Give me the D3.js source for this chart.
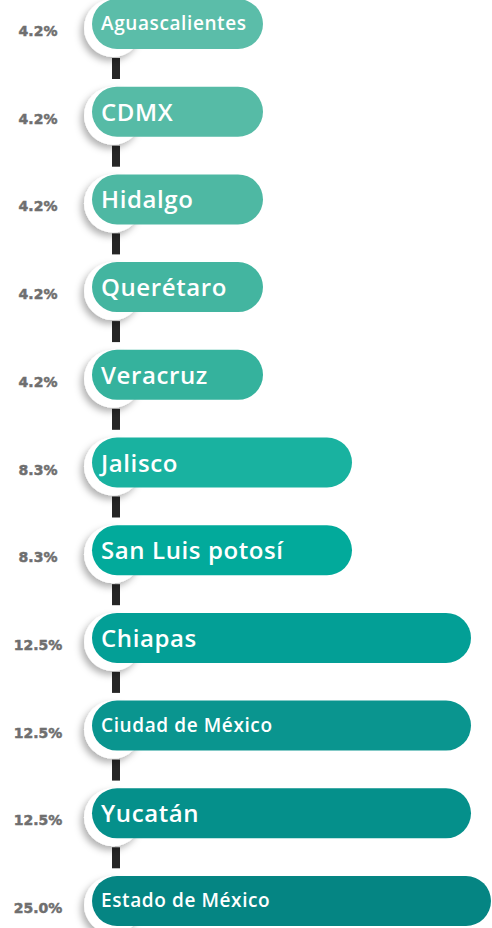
<!DOCTYPE html>
<html>
<head>
<meta charset="utf-8">
<script src="https://cdn.jsdelivr.net/npm/d3@7"></script>
<style>
  html, body { margin: 0; padding: 0; background: #fff; }
  svg { display: block; }
</style>
</head>
<body>
<div id="chart"></div>
<script>
// states, from top to bottom
const states = ["Aguascalientes", "CDMX", "Hidalgo", "Querétaro", "Veracruz", "Jalisco",
  "San Luis potosí", "Chiapas", "Ciudad de México", "Yucatán", "Estado de México"];
const shares = [4.2, 4.2, 4.2, 4.2, 4.2, 8.3, 8.3, 12.5, 12.5, 12.5, 25.0];
const pctLabels = ["4.2%", "4.2%", "4.2%", "4.2%", "4.2%", "8.3%", "8.3%", "12.5%", "12.5%", "12.5%", "25.0%"];
const colors = ["#5bbda9", "#56bba6", "#4eb8a3", "#43b5a0", "#35b29d", "#19b2a0",
  "#02aa9b", "#039f96", "#0a958f", "#05908b", "#058583"];

// labels that were set smaller in the original
const smallLabels = new Set(["Aguascalientes", "Ciudad de México", "Estado de México"]);

const width = 492, height = 928;
const barX = 92, barH = 50;

const svg = d3.select("#chart").append("svg")
    .attr("width", width)
    .attr("height", height);

const defs = svg.append("defs");
const shadow = defs.append("filter")
    .attr("id", "shadow")
    .attr("x", "-50%").attr("y", "-50%")
    .attr("width", "200%").attr("height", "200%");
shadow.append("feDropShadow")
    .attr("dx", -3).attr("dy", 4)
    .attr("stdDeviation", 3.5)
    .attr("flood-color", "#000")
    .attr("flood-opacity", 0.3);

const data = states.map((s, i) => ({ name: s, value: shares[i], label: pctLabels[i], color: colors[i] }));

let y = d3.scalePoint()
    .domain(states)
    .range([24, 901]);

// bar length grows with the share but the longest bar is held inside the page
let x = d3.scaleLinear()
    .domain([4.2, 8.3, 12.5, 25])
    .range([171, 260, 379, 399]);

// connectors between rows
svg.selectAll(".link")
    .data(data.slice(0, -1))
  .enter().append("rect")
    .attr("class", "link")
    .attr("x", 112)
    .attr("width", 8)
    .attr("y", d => y(d.name) + 34)
    .attr("height", 21)
    .attr("fill", "#262626");

const row = svg.selectAll(".row")
    .data(data)
  .enter().append("g")
    .attr("class", "row")
    .attr("transform", d => "translate(0," + y(d.name) + ")");

// white disc behind the start of each bar
row.append("circle")
    .attr("cx", 113)
    .attr("cy", 4)
    .attr("r", 29)
    .attr("fill", "#fff")
    .attr("filter", "url(#shadow)");

row.append("rect")
    .attr("x", barX)
    .attr("y", -barH / 2)
    .attr("width", d => x(d.value))
    .attr("height", barH)
    .attr("rx", barH / 2)
    .attr("fill", d => d.color);

row.append("text")
    .attr("x", 101)
    .attr("y", d => smallLabels.has(d.name) ? 6 : 9)
    .attr("fill", "#fff")
    .style("font-family", "'Open Sans', sans-serif")
    .style("font-weight", 600)
    .style("letter-spacing", "0.6px")
    .style("font-size", d => smallLabels.has(d.name) ? "19px" : "24px")
    .text(d => d.name);

row.append("text")
    .attr("x", 38)
    .attr("y", 12)
    .attr("text-anchor", "middle")
    .attr("fill", "#6f6f6f")
    .attr("stroke", "#6f6f6f")
    .attr("stroke-width", 0.5)
    .style("font-family", "'DejaVu Sans', sans-serif")
    .style("font-weight", 700)
    .style("font-size", "14px")
    .text(d => d.label);
</script>
</body>
</html>
